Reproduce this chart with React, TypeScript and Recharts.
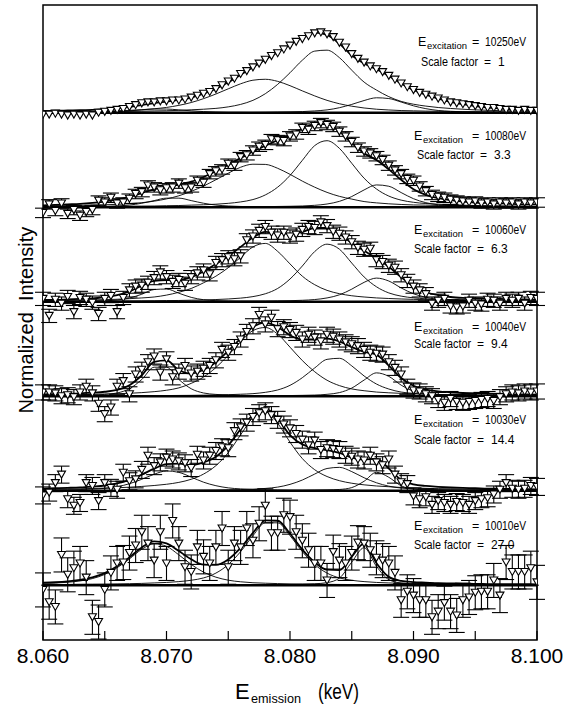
import { ComposedChart, Line, Scatter, ErrorBar, XAxis, YAxis, ReferenceLine, ReferenceArea } from 'recharts'

const FONT = '"Liberation Sans", Arial, sans-serif'

// energy grid of the fitted curves (keV)
const fitEnergy = [
  8.06, 8.061, 8.062, 8.063, 8.064, 8.065, 8.066, 8.067, 8.068, 8.069,
  8.07, 8.071, 8.072, 8.073, 8.074, 8.075, 8.076, 8.077, 8.078, 8.079,
  8.08, 8.081, 8.082, 8.083, 8.084, 8.085, 8.086, 8.087, 8.088, 8.089,
  8.09, 8.091, 8.092, 8.093, 8.094, 8.095, 8.096, 8.097, 8.098, 8.099,
  8.1,
]

// energies of the measured points (keV)
const pointEnergy = [
  8.06, 8.0605, 8.061, 8.0615, 8.062, 8.0625, 8.063, 8.0635, 8.064, 8.0645,
  8.065, 8.0655, 8.066, 8.0665, 8.067, 8.0675, 8.068, 8.0685, 8.069, 8.0695,
  8.07, 8.0705, 8.071, 8.0715, 8.072, 8.0725, 8.073, 8.0735, 8.074, 8.0745,
  8.075, 8.0755, 8.076, 8.0765, 8.077, 8.0775, 8.078, 8.0785, 8.079, 8.0795,
  8.08, 8.0805, 8.081, 8.0815, 8.082, 8.0825, 8.083, 8.0835, 8.084, 8.0845,
  8.085, 8.0855, 8.086, 8.0865, 8.087, 8.0875, 8.088, 8.0885, 8.089, 8.0895,
  8.09, 8.0905, 8.091, 8.0915, 8.092, 8.0925, 8.093, 8.0935, 8.094, 8.0945,
  8.095, 8.0955, 8.096, 8.0965, 8.097, 8.0975, 8.098, 8.0985, 8.099, 8.0995,
  8.1,
]

const xTicks = [8.06, 8.065, 8.07, 8.075, 8.08, 8.085, 8.09, 8.095, 8.1]
const xLabels = [8.06, 8.07, 8.08, 8.09, 8.1]

const excitations = ['10250', '10080', '10060', '10040', '10030', '10010']
const scaleFactors = ['1', '3.3', '6.3', '9.4', '14.4', '27.0']
const pointErrors = [0, 0.05, 0.07, 0.08, 0.09, 0.18]

// ---- 10250 eV ----
const points10250 = [
  -0.02, -0.02, -0.01, -0.02, -0.03, -0.02, -0.03, -0.02, -0.03, 0.0,
  0.01, 0.02, 0.03, 0.04, 0.06, 0.08, 0.1, 0.11, 0.11, 0.12,
  0.12, 0.13, 0.13, 0.14, 0.16, 0.18, 0.2, 0.22, 0.25, 0.29,
  0.33, 0.36, 0.41, 0.44, 0.48, 0.52, 0.56, 0.6, 0.63, 0.67,
  0.71, 0.75, 0.78, 0.81, 0.84, 0.85, 0.83, 0.8, 0.74, 0.69,
  0.62, 0.57, 0.53, 0.49, 0.46, 0.43, 0.39, 0.35, 0.31, 0.27,
  0.24, 0.21, 0.19, 0.17, 0.15, 0.13, 0.11, 0.1, 0.09, 0.08,
  0.07, 0.06, 0.05, 0.05, 0.04, 0.03, 0.03, 0.02, 0.03, 0.02,
  0.02,
]
const fit10250 = [
  0.018, 0.021, 0.024, 0.026, 0.031, 0.038, 0.048, 0.061, 0.08, 0.102,
  0.118, 0.135, 0.161, 0.201, 0.254, 0.322, 0.401, 0.481, 0.562, 0.64,
  0.719, 0.799, 0.849, 0.823, 0.731, 0.607, 0.52, 0.46, 0.39, 0.31,
  0.24, 0.19, 0.15, 0.115, 0.09, 0.07, 0.055, 0.045, 0.035, 0.03,
  0.025,
]
const peaks10250 = [
  [0.001, 0.002, 0.002, 0.003, 0.004, 0.007, 0.012, 0.02, 0.03, 0.039,
   0.039, 0.03, 0.02, 0.012, 0.007, 0.004, 0.003, 0.002, 0.002, 0.001,
   0.001, 0.001, 0, 0, 0, 0, 0, 0, 0, 0,
   0, 0, 0, 0, 0, 0, 0, 0, 0, 0, 0],
  [0.009, 0.01, 0.012, 0.013, 0.015, 0.018, 0.021, 0.025, 0.032, 0.042,
   0.056, 0.078, 0.108, 0.149, 0.198, 0.253, 0.306, 0.344, 0.354, 0.332,
   0.286, 0.231, 0.178, 0.131, 0.095, 0.069, 0.05, 0.037, 0.029, 0.023,
   0.02, 0.017, 0.015, 0.013, 0.011, 0.01, 0.009, 0.008, 0.007, 0.007, 0.006],
  [0.007, 0.008, 0.009, 0.009, 0.011, 0.011, 0.013, 0.014, 0.016, 0.019,
   0.021, 0.025, 0.031, 0.037, 0.046, 0.062, 0.088, 0.131, 0.201, 0.3,
   0.423, 0.556, 0.652, 0.662, 0.583, 0.45, 0.324, 0.24, 0.17, 0.12,
   0.09, 0.07, 0.055, 0.045, 0.037, 0.03, 0.026, 0.022, 0.019, 0.017, 0.015],
  [0.001, 0.001, 0.001, 0.001, 0.001, 0.002, 0.002, 0.002, 0.002, 0.002,
   0.002, 0.002, 0.002, 0.003, 0.003, 0.003, 0.004, 0.004, 0.005, 0.007,
   0.009, 0.012, 0.019, 0.03, 0.053, 0.088, 0.129, 0.158, 0.15, 0.113,
   0.073, 0.043, 0.024, 0.015, 0.01, 0.008, 0.006, 0.005, 0.004, 0.004, 0.003],
]

// ---- 10080 eV ----
const points10080 = [
  -0.06, 0.03, -0.04, 0.04, -0.07, -0.03, -0.09, -0.05, -0.03, 0.07,
  0.05, 0.1, 0.04, 0.05, 0.09, 0.14, 0.16, 0.23, 0.21, 0.18,
  0.2, 0.21, 0.25, 0.2, 0.21, 0.28, 0.26, 0.35, 0.38, 0.4,
  0.46, 0.44, 0.53, 0.55, 0.6, 0.64, 0.66, 0.72, 0.71, 0.7,
  0.75, 0.77, 0.84, 0.82, 0.86, 0.89, 0.87, 0.85, 0.8, 0.75,
  0.69, 0.63, 0.59, 0.57, 0.54, 0.5, 0.44, 0.39, 0.35, 0.3,
  0.28, 0.22, 0.17, 0.13, 0.11, 0.1, 0.08, 0.07, 0.06, 0.05,
  0.06, 0.04, 0.05, 0.03, 0.05, 0.04, 0.05, 0.03, 0.05, 0.04,
  0.05,
]
const fit10080 = [
  0.02, 0.025, 0.03, 0.035, 0.045, 0.06, 0.08, 0.11, 0.15, 0.19,
  0.22, 0.24, 0.27, 0.32, 0.38, 0.45, 0.52, 0.59, 0.65, 0.71,
  0.77, 0.83, 0.88, 0.88, 0.8, 0.68, 0.57, 0.5, 0.4, 0.29,
  0.19, 0.13, 0.095, 0.075, 0.06, 0.05, 0.045, 0.04, 0.035, 0.03,
  0.03,
]
const peaks10080 = [
  [0.002, 0.003, 0.003, 0.004, 0.005, 0.008, 0.013, 0.023, 0.042, 0.07,
   0.096, 0.096, 0.07, 0.042, 0.023, 0.013, 0.008, 0.005, 0.004, 0.003,
   0.003, 0.002, 0.002, 0.002, 0.001, 0.001, 0.001, 0.001, 0.001, 0.001,
   0.001, 0, 0, 0, 0, 0, 0, 0, 0, 0, 0],
  [0.013, 0.015, 0.017, 0.019, 0.022, 0.026, 0.03, 0.038, 0.048, 0.064,
   0.088, 0.121, 0.168, 0.224, 0.291, 0.36, 0.423, 0.455, 0.453, 0.412,
   0.348, 0.276, 0.212, 0.157, 0.115, 0.086, 0.06, 0.046, 0.036, 0.029,
   0.024, 0.022, 0.018, 0.017, 0.014, 0.013, 0.012, 0.011, 0.01, 0.009, 0.008],
  [0.006, 0.006, 0.006, 0.007, 0.008, 0.008, 0.01, 0.011, 0.012, 0.013,
   0.016, 0.018, 0.022, 0.026, 0.032, 0.041, 0.056, 0.081, 0.13, 0.212,
   0.336, 0.496, 0.652, 0.704, 0.623, 0.465, 0.307, 0.193, 0.118, 0.075,
   0.052, 0.039, 0.032, 0.025, 0.021, 0.018, 0.016, 0.013, 0.012, 0.011, 0.009],
  [0.002, 0.002, 0.002, 0.002, 0.002, 0.002, 0.003, 0.003, 0.003, 0.003,
   0.003, 0.003, 0.004, 0.004, 0.004, 0.004, 0.005, 0.005, 0.006, 0.008,
   0.01, 0.013, 0.02, 0.034, 0.062, 0.113, 0.183, 0.236, 0.222, 0.155,
   0.09, 0.048, 0.026, 0.017, 0.012, 0.009, 0.007, 0.006, 0.005, 0.004, 0.004],
]

// ---- 10060 eV ----
const points10060 = [
  0.03, -0.15, 0.02, -0.02, 0.05, -0.11, 0.04, 0.02, -0.01, -0.13,
  0.03, 0.06, -0.11, 0.04, 0.12, 0.16, 0.17, 0.2, 0.25, 0.31,
  0.26, 0.21, 0.23, 0.19, 0.26, 0.3, 0.33, 0.29, 0.41, 0.44,
  0.47, 0.45, 0.48, 0.65, 0.69, 0.75, 0.79, 0.73, 0.7, 0.73,
  0.69, 0.71, 0.76, 0.79, 0.78, 0.84, 0.8, 0.74, 0.72, 0.68,
  0.63, 0.57, 0.55, 0.56, 0.44, 0.42, 0.38, 0.36, 0.28, 0.22,
  0.16, 0.12, 0.08, -0.02, 0.01, 0.03, -0.05, -0.06, -0.05, 0.01,
  -0.02, -0.03, 0.02, 0.01, -0.02, 0.03, 0.01, 0.03, -0.02, 0.04,
  0.03,
]
const fit10060 = [
  0.02, 0.02, 0.025, 0.03, 0.035, 0.05, 0.07, 0.11, 0.17, 0.22,
  0.23, 0.23, 0.26, 0.32, 0.4, 0.48, 0.58, 0.68, 0.74, 0.73,
  0.72, 0.74, 0.78, 0.78, 0.72, 0.62, 0.54, 0.46, 0.37, 0.26,
  0.16, 0.1, 0.07, 0.05, 0.04, 0.035, 0.03, 0.03, 0.025, 0.025,
  0.02,
]
const peaks10060 = [
  [0.003, 0.003, 0.004, 0.005, 0.007, 0.01, 0.018, 0.039, 0.079, 0.129,
   0.134, 0.09, 0.046, 0.021, 0.011, 0.007, 0.005, 0.004, 0.003, 0.003,
   0.002, 0.002, 0.002, 0.002, 0.001, 0.001, 0.001, 0.001, 0.001, 0.001,
   0, 0, 0, 0, 0, 0, 0, 0, 0, 0, 0],
  [0.012, 0.013, 0.015, 0.017, 0.019, 0.022, 0.026, 0.032, 0.04, 0.05,
   0.07, 0.1, 0.14, 0.2, 0.27, 0.36, 0.47, 0.58, 0.617, 0.533,
   0.4, 0.27, 0.18, 0.12, 0.085, 0.063, 0.05, 0.04, 0.034, 0.029,
   0.025, 0.022, 0.019, 0.017, 0.015, 0.014, 0.013, 0.012, 0.011, 0.01, 0.009],
  [0.004, 0.004, 0.005, 0.005, 0.005, 0.006, 0.007, 0.008, 0.009, 0.01,
   0.012, 0.013, 0.016, 0.019, 0.023, 0.029, 0.038, 0.054, 0.084, 0.14,
   0.24, 0.378, 0.531, 0.609, 0.556, 0.409, 0.262, 0.158, 0.093, 0.059,
   0.041, 0.031, 0.024, 0.02, 0.016, 0.014, 0.012, 0.01, 0.009, 0.008, 0.007],
  [0.002, 0.002, 0.002, 0.002, 0.002, 0.002, 0.002, 0.003, 0.003, 0.003,
   0.003, 0.003, 0.004, 0.004, 0.004, 0.004, 0.005, 0.006, 0.007, 0.009,
   0.011, 0.015, 0.023, 0.04, 0.073, 0.133, 0.205, 0.25, 0.219, 0.146,
   0.084, 0.047, 0.025, 0.016, 0.012, 0.009, 0.007, 0.006, 0.005, 0.004, 0.004],
]

// ---- 10040 eV ----
const points10040 = [
  0.04, 0.04, 0.03, 0.0, 0.01, -0.01, 0.04, 0.1, 0.03, -0.08,
  -0.19, -0.12, 0.1, 0.16, 0.02, 0.23, 0.28, 0.36, 0.42, 0.25,
  0.39, 0.2, 0.26, 0.32, 0.24, 0.26, 0.29, 0.32, 0.38, 0.49,
  0.46, 0.52, 0.6, 0.68, 0.74, 0.86, 0.76, 0.83, 0.71, 0.73,
  0.7, 0.67, 0.6, 0.65, 0.62, 0.58, 0.65, 0.63, 0.6, 0.57,
  0.55, 0.53, 0.49, 0.46, 0.45, 0.44, 0.36, 0.3, 0.23, 0.1,
  0.06, 0.05, 0.02, 0.0, -0.04, -0.07, -0.03, -0.06, -0.07, -0.06,
  -0.05, -0.04, -0.03, -0.05, -0.01, 0.02, 0.04, 0.03, 0.05, 0.04,
  0.05,
]
const fit10040 = [
  0.02, 0.023, 0.026, 0.03, 0.037, 0.047, 0.066, 0.117, 0.222, 0.363,
  0.379, 0.275, 0.24, 0.28, 0.36, 0.48, 0.609, 0.733, 0.779, 0.733,
  0.645, 0.6, 0.6, 0.61, 0.58, 0.52, 0.47, 0.44, 0.324, 0.193,
  0.11, 0.069, 0.051, 0.041, 0.034, 0.029, 0.026, 0.023, 0.02, 0.019,
  0.017,
]
const peaks10040 = [
  [0.005, 0.006, 0.007, 0.009, 0.013, 0.019, 0.034, 0.079, 0.177, 0.307,
   0.307, 0.177, 0.079, 0.034, 0.019, 0.013, 0.009, 0.007, 0.006, 0.005,
   0.004, 0.004, 0.003, 0.003, 0.003, 0.002, 0.002, 0.002, 0.002, 0.002,
   0.002, 0.001, 0.001, 0.001, 0.001, 0.001, 0.001, 0.001, 0.001, 0.001, 0.001],
  [0.012, 0.014, 0.015, 0.017, 0.02, 0.023, 0.026, 0.031, 0.038, 0.048,
   0.063, 0.088, 0.136, 0.203, 0.303, 0.433, 0.575, 0.695, 0.727, 0.657,
   0.519, 0.377, 0.259, 0.169, 0.112, 0.077, 0.058, 0.044, 0.036, 0.03,
   0.025, 0.021, 0.018, 0.016, 0.015, 0.013, 0.012, 0.011, 0.01, 0.009, 0.008],
  [0.002, 0.002, 0.003, 0.003, 0.003, 0.004, 0.004, 0.005, 0.005, 0.006,
   0.007, 0.008, 0.009, 0.011, 0.013, 0.016, 0.021, 0.027, 0.041, 0.066,
   0.115, 0.196, 0.299, 0.39, 0.401, 0.321, 0.214, 0.129, 0.076, 0.044,
   0.03, 0.022, 0.017, 0.014, 0.011, 0.009, 0.008, 0.007, 0.006, 0.006, 0.005],
  [0.001, 0.001, 0.001, 0.001, 0.001, 0.001, 0.002, 0.002, 0.002, 0.002,
   0.002, 0.002, 0.002, 0.003, 0.003, 0.003, 0.004, 0.004, 0.005, 0.005,
   0.007, 0.009, 0.012, 0.02, 0.038, 0.086, 0.171, 0.247, 0.21, 0.117,
   0.053, 0.025, 0.015, 0.01, 0.007, 0.006, 0.005, 0.004, 0.003, 0.003, 0.003],
]

// ---- 10030 eV ----
const points10030 = [
  -0.05, -0.02, 0.08, 0.17, -0.09, -0.16, -0.13, 0.08, 0.05, -0.11,
  0.08, 0.03, 0.01, 0.19, 0.1, 0.12, 0.22, 0.37, 0.26, 0.3,
  0.35, 0.33, 0.31, 0.29, 0.24, 0.38, 0.32, 0.37, 0.42, 0.46,
  0.45, 0.63, 0.67, 0.72, 0.78, 0.82, 0.84, 0.8, 0.75, 0.7,
  0.66, 0.6, 0.54, 0.48, 0.53, 0.43, 0.45, 0.44, 0.43, 0.38,
  0.36, 0.33, 0.32, 0.37, 0.3, 0.27, 0.33, 0.17, 0.09, 0.07,
  -0.06, -0.09, -0.07, -0.15, -0.11, -0.13, -0.15, -0.12, -0.13, -0.15,
  -0.11, -0.09, -0.08, -0.04, 0.01, 0.08, 0.02, 0.01, 0.02, 0.05,
  0.04,
]
const fit10030 = [
  0.023, 0.026, 0.03, 0.035, 0.044, 0.055, 0.077, 0.115, 0.17, 0.233,
  0.282, 0.287, 0.271, 0.3, 0.36, 0.48, 0.65, 0.803, 0.871, 0.762,
  0.589, 0.49, 0.45, 0.43, 0.4, 0.35, 0.33, 0.34, 0.234, 0.116,
  0.068, 0.05, 0.041, 0.034, 0.029, 0.026, 0.021, 0.021, 0.018, 0.017,
  0.014,
]
const peaks10030 = [
  [0.006, 0.007, 0.009, 0.012, 0.017, 0.025, 0.042, 0.074, 0.121, 0.174,
   0.209, 0.194, 0.144, 0.09, 0.053, 0.03, 0.019, 0.013, 0.01, 0.008,
   0.006, 0.005, 0.005, 0.004, 0.004, 0.003, 0.003, 0.003, 0.002, 0.002,
   0.002, 0.002, 0.002, 0.002, 0.002, 0.002, 0.001, 0.001, 0.001, 0.001, 0.001],
  [0.014, 0.016, 0.018, 0.02, 0.024, 0.027, 0.031, 0.037, 0.045, 0.055,
   0.068, 0.088, 0.121, 0.176, 0.265, 0.403, 0.591, 0.773, 0.836, 0.714,
   0.514, 0.34, 0.222, 0.15, 0.106, 0.079, 0.062, 0.05, 0.042, 0.034,
   0.029, 0.025, 0.022, 0.019, 0.017, 0.015, 0.013, 0.013, 0.011, 0.01, 0.009],
  [0.002, 0.002, 0.002, 0.002, 0.002, 0.002, 0.003, 0.003, 0.003, 0.003,
   0.004, 0.004, 0.005, 0.006, 0.007, 0.01, 0.012, 0.016, 0.024, 0.038,
   0.067, 0.113, 0.176, 0.235, 0.247, 0.202, 0.137, 0.084, 0.048, 0.028,
   0.019, 0.014, 0.011, 0.009, 0.007, 0.006, 0.005, 0.005, 0.004, 0.004, 0.003],
  [0.001, 0.001, 0.001, 0.001, 0.001, 0.001, 0.001, 0.001, 0.001, 0.001,
   0.001, 0.001, 0.001, 0.001, 0.001, 0.001, 0.001, 0.001, 0.001, 0.002,
   0.002, 0.003, 0.005, 0.008, 0.013, 0.033, 0.1, 0.195, 0.142, 0.052,
   0.018, 0.009, 0.006, 0.004, 0.003, 0.003, 0.002, 0.002, 0.002, 0.002, 0.001],
]

// ---- 10010 eV ----
const points10010 = [
  -0.05, -0.18, -0.23, 0.32, 0.11, 0.18, 0.23, 0.08, -0.34, -0.39,
  -0.05, 0.13, 0.23, 0.24, 0.34, 0.42, 0.56, 0.44, 0.26, 0.56,
  0.23, 0.68, 0.44, 0.19, 0.14, 0.4, 0.3, 0.23, 0.4, 0.6,
  0.19, 0.44, 0.4, 0.6, 0.47, 0.65, 0.84, 0.55, 0.55, 0.74,
  0.72, 0.56, 0.47, 0.37, 0.23, 0.23, 0.05, 0.35, 0.26, 0.23,
  0.34, 0.45, 0.44, 0.37, 0.29, 0.26, 0.23, 0.13, -0.16, -0.07,
  -0.11, -0.16, -0.16, -0.34, -0.28, -0.19, -0.28, -0.32, -0.16, -0.13,
  -0.08, -0.07, -0.07, 0.05, -0.11, 0.24, 0.14, 0.14, 0.14, 0.18,
  0.03,
]
const fit10010 = [
  0.027, 0.031, 0.04, 0.056, 0.082, 0.127, 0.2, 0.295, 0.4, 0.463,
  0.442, 0.361, 0.274, 0.217, 0.215, 0.273, 0.394, 0.553, 0.685, 0.682,
  0.545, 0.377, 0.243, 0.164, 0.16, 0.303, 0.44, 0.234, 0.088, 0.046,
  0.033, 0.027, 0.021, 0.019, 0.017, 0.014, 0.012, 0.011, 0.01, 0.01,
  0.009,
]
const peaks10010 = [
  [0.019, 0.023, 0.031, 0.045, 0.07, 0.114, 0.185, 0.278, 0.38, 0.438,
   0.411, 0.321, 0.22, 0.138, 0.085, 0.053, 0.036, 0.026, 0.021, 0.017,
   0.014, 0.012, 0.01, 0.009, 0.008, 0.007, 0.006, 0.005, 0.005, 0.004,
   0.004, 0.004, 0.003, 0.003, 0.003, 0.003, 0.002, 0.002, 0.002, 0.002, 0.002],
  [0.007, 0.007, 0.008, 0.01, 0.011, 0.012, 0.014, 0.016, 0.019, 0.024,
   0.029, 0.038, 0.052, 0.077, 0.128, 0.218, 0.355, 0.524, 0.66, 0.66,
   0.524, 0.355, 0.218, 0.128, 0.077, 0.052, 0.038, 0.029, 0.024, 0.019,
   0.016, 0.014, 0.012, 0.011, 0.01, 0.008, 0.007, 0.007, 0.006, 0.006, 0.005],
  [0.001, 0.001, 0.001, 0.001, 0.001, 0.001, 0.001, 0.001, 0.001, 0.001,
   0.002, 0.002, 0.002, 0.002, 0.002, 0.002, 0.003, 0.003, 0.004, 0.005,
   0.007, 0.01, 0.015, 0.027, 0.075, 0.244, 0.396, 0.2, 0.059, 0.023,
   0.013, 0.009, 0.006, 0.005, 0.004, 0.003, 0.003, 0.002, 0.002, 0.002, 0.002],
]

const panels = [
  { points: points10250, fit: fit10250, peaks: peaks10250 },
  { points: points10080, fit: fit10080, peaks: peaks10080 },
  { points: points10060, fit: fit10060, peaks: peaks10060 },
  { points: points10040, fit: fit10040, peaks: peaks10040 },
  { points: points10030, fit: fit10030, peaks: peaks10030 },
  { points: points10010, fit: fit10010, peaks: peaks10010 },
]

// layout: each spectrum sits one unit above the next, top one at 5
const Y_MIN = -0.58
const Y_MAX = 6.14
const offsetOf = (i: number) => panels.length - 1 - i

// text block placement (px)
const labelX = [418, 414, 414, 414, 414, 414]
const scaleX = [421, 417, 414, 414, 414, 414]
const labelY = [46, 140, 234, 331, 424, 530]
const scaleY = [66, 159, 253, 348, 444, 549]

const curve = (values: number[], off: number) => fitEnergy.map((e, k) => ({ e, v: values[k] + off }))

function Triangle(props: any) {
  const { cx, cy } = props
  if (cx == null || cy == null) return null
  return (
    <path
      d={`M${cx - 4},${cy - 3.5}L${cx + 4},${cy - 3.5}L${cx},${cy + 3.5}Z`}
      fill="#fff"
      stroke="#000"
      strokeWidth={1.1}
    />
  )
}

export default function App() {
  return (
    <div style={{ position: 'absolute', left: 0, top: 0, width: 576, height: 707, background: '#fff' }}>
      <ComposedChart width={576} height={707} margin={{ top: 5, right: 39, bottom: 37, left: 43 }}>
        <XAxis
          type="number"
          dataKey="e"
          domain={[8.06, 8.1]}
          allowDataOverflow
          ticks={xLabels}
          tickFormatter={(v: number) => v.toFixed(3)}
          tickLine={false}
          axisLine={false}
          height={30}
          tick={{ fontSize: 21, fill: '#000', fontFamily: FONT }}
        />
        <YAxis type="number" dataKey="v" domain={[Y_MIN, Y_MAX]} allowDataOverflow hide />
        {xTicks.map((t) => (
          <ReferenceLine
            key={`tick-${t}`}
            segment={[{ x: t, y: Y_MIN }, { x: t, y: Y_MIN + 0.095 }]}
            stroke="#000"
            strokeWidth={1.2}
          />
        ))}
        {panels.map((p, i) =>
          p.peaks.map((pk, j) => (
            <Line
              key={`peak-${i}-${j}`}
              data={curve(pk, offsetOf(i))}
              dataKey="v"
              type="monotone"
              stroke="#000"
              strokeWidth={0.9}
              dot={false}
              isAnimationActive={false}
            />
          ))
        )}
        {panels.map((p, i) => (
          <Line
            key={`fit-${i}`}
            data={curve(p.fit, offsetOf(i))}
            dataKey="v"
            type="monotone"
            stroke="#000"
            strokeWidth={1.8}
            dot={false}
            isAnimationActive={false}
          />
        ))}
        {panels.map((_, i) => (
          <ReferenceLine key={`base-${i}`} y={offsetOf(i)} stroke="#000" strokeWidth={2.4} />
        ))}
        <ReferenceArea x1={8.06} x2={8.1} y1={Y_MIN} y2={Y_MAX} fill="none" stroke="#000" strokeWidth={1.5} />
        {panels.map((p, i) => (
          <Scatter
            key={`pts-${i}`}
            data={pointEnergy.map((e, j) => ({ e, v: p.points[j] + offsetOf(i), err: pointErrors[i] }))}
            dataKey="v"
            shape={Triangle}
            isAnimationActive={false}
          >
            {pointErrors[i] > 0 && (
              <ErrorBar dataKey="err" direction="y" width={8} stroke="#000" strokeWidth={1.1} isAnimationActive={false} />
            )}
          </Scatter>
        ))}
      </ComposedChart>
      <svg
        width={576}
        height={707}
        style={{ position: 'absolute', left: 0, top: 0, pointerEvents: 'none' }}
        fontFamily={FONT}
      >
        {excitations.map((ex, i) => (
          <g key={ex}>
            <text x={labelX[i]} y={labelY[i]} fontSize={12.5}>E</text>
            <text x={labelX[i] + 9} y={labelY[i] + 3} fontSize={9.5} textLength={40} lengthAdjust="spacingAndGlyphs">
              excitation
            </text>
            <text x={472} y={labelY[i]} fontSize={12.5}>=</text>
            <text x={485} y={labelY[i]} fontSize={12.5} textLength={41} lengthAdjust="spacingAndGlyphs">
              {`${ex}eV`}
            </text>
            <text x={scaleX[i]} y={scaleY[i]} fontSize={12} textLength={57} lengthAdjust="spacingAndGlyphs">
              Scale factor
            </text>
            <text x={scaleX[i] + 63} y={scaleY[i]} fontSize={12}>=</text>
            <text x={scaleX[i] + 77} y={scaleY[i]} fontSize={12}>{scaleFactors[i]}</text>
          </g>
        ))}
        <text transform="translate(33,320) rotate(-90)" textAnchor="middle" fontSize={20} style={{ whiteSpace: 'pre' }}>
          {'Normalized  Intensity'}
        </text>
        <text x={235} y={699} fontSize={22}>E</text>
        <text x={251} y={703} fontSize={12.5} textLength={50} lengthAdjust="spacingAndGlyphs">emission</text>
        <text x={318} y={699} fontSize={22} textLength={41} lengthAdjust="spacingAndGlyphs">(keV)</text>
      </svg>
    </div>
  )
}
